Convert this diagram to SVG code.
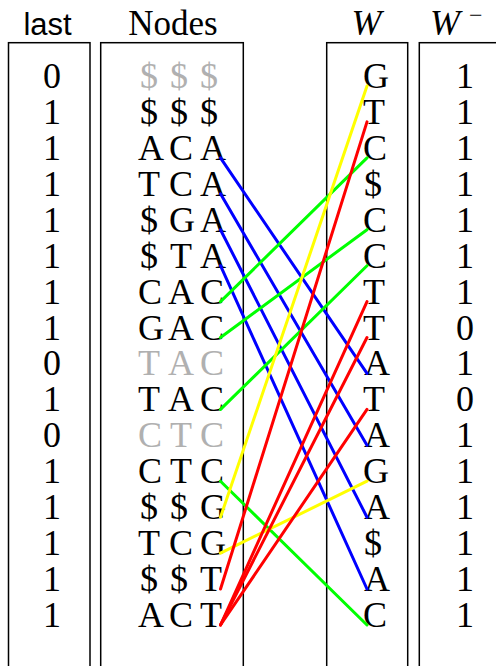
<svg xmlns="http://www.w3.org/2000/svg" width="496" height="666" viewBox="0 0 496 666">
<style>
.t{font-family:"Liberation Serif","DejaVu Serif",serif;font-size:36px;fill:#000}
.c{text-anchor:middle}
.g{fill:#b0b0b0}
.box{fill:none;stroke:#000;stroke-width:1.5}
.e{fill:none;stroke-width:3;stroke-linecap:round}
.A{stroke:#0000ff}.C{stroke:#00ff00}.G{stroke:#ffff00}.T{stroke:#ff0000}
</style>
<rect width="496" height="666" fill="#fff"/>
<g id="headers">
<text x="47.5" y="35" style="font-family:'Liberation Sans','DejaVu Sans',sans-serif;font-size:31px" text-anchor="middle">last</text>
<text class="t c" x="173" y="35" style="font-size:35px">Nodes</text>
<text class="t c" x="366.5" y="35" font-style="italic">W</text>
<text class="t" x="430" y="35" font-style="italic">W<tspan style="font-style:normal;font-size:24px" x="469" y="23">−</tspan></text>
</g>
<g id="boxes">
<rect class="box" x="8.5" y="42.7" width="81.5" height="640"/>
<rect class="box" x="100.7" y="42.7" width="142.6" height="640"/>
<rect class="box" x="326.7" y="42.7" width="81" height="640"/>
<rect class="box" x="419.3" y="42.7" width="100" height="640"/>
</g>
<g id="last" class="t c">
<text x="52" y="88">0</text><text x="52" y="123.9">1</text><text x="52" y="159.9">1</text><text x="52" y="195.8">1</text>
<text x="52" y="231.7">1</text><text x="52" y="267.7">1</text><text x="52" y="303.6">1</text><text x="52" y="339.5">1</text>
<text x="52" y="375.4">0</text><text x="52" y="411.4">1</text><text x="52" y="447.3">0</text><text x="52" y="483.2">1</text>
<text x="52" y="519.2">1</text><text x="52" y="555.1">1</text><text x="52" y="591">1</text><text x="52" y="627">1</text>
</g>
<g id="nodes" class="t">
<g id="node1"><text class="g" y="88"><tspan x="140">$</tspan><tspan x="170">$</tspan><tspan x="200">$</tspan></text></g>
<g id="node2"><text y="123.9"><tspan x="140">$</tspan><tspan x="170">$</tspan><tspan x="200">$</tspan></text></g>
<g id="node3"><text y="159.9"><tspan x="138">A</tspan><tspan x="169">C</tspan><tspan x="200">A</tspan></text></g>
<g id="node4"><text y="195.8"><tspan x="138">T</tspan><tspan x="169">C</tspan><tspan x="200">A</tspan></text></g>
<g id="node5"><text y="231.7"><tspan x="140">$</tspan><tspan x="169">G</tspan><tspan x="200">A</tspan></text></g>
<g id="node6"><text y="267.7"><tspan x="140">$</tspan><tspan x="170">T</tspan><tspan x="200">A</tspan></text></g>
<g id="node7"><text y="303.6"><tspan x="138">C</tspan><tspan x="168">A</tspan><tspan x="200">C</tspan></text></g>
<g id="node8"><text y="339.5"><tspan x="138">G</tspan><tspan x="168">A</tspan><tspan x="200">C</tspan></text></g>
<g id="node9"><text class="g" y="375.4"><tspan x="138">T</tspan><tspan x="168">A</tspan><tspan x="200">C</tspan></text></g>
<g id="node10"><text y="411.4"><tspan x="138">T</tspan><tspan x="168">A</tspan><tspan x="200">C</tspan></text></g>
<g id="node11"><text class="g" y="447.3"><tspan x="138">C</tspan><tspan x="170">T</tspan><tspan x="200">C</tspan></text></g>
<g id="node12"><text y="483.2"><tspan x="138">C</tspan><tspan x="170">T</tspan><tspan x="200">C</tspan></text></g>
<g id="node13"><text y="519.2"><tspan x="140">$</tspan><tspan x="170">$</tspan><tspan x="200">G</tspan></text></g>
<g id="node14"><text y="555.1"><tspan x="138">T</tspan><tspan x="169">C</tspan><tspan x="200">G</tspan></text></g>
<g id="node15"><text y="591"><tspan x="140">$</tspan><tspan x="170">$</tspan><tspan x="200">T</tspan></text></g>
<g id="node16"><text y="627"><tspan x="138">A</tspan><tspan x="169">C</tspan><tspan x="200">T</tspan></text></g>
</g>
<g id="W" class="t">
<text x="363" y="88">G</text><text x="363" y="123.9">T</text><text x="363" y="159.9">C</text><text x="364" y="195.8">$</text>
<text x="363" y="231.7">C</text><text x="363" y="267.7">C</text><text x="363" y="303.6">T</text><text x="363" y="339.5">T</text>
<text x="364" y="375.4">A</text><text x="363" y="411.4">T</text><text x="364" y="447.3">A</text><text x="363" y="483.2">G</text>
<text x="364" y="519.2">A</text><text x="364" y="555.1">$</text><text x="364" y="591">A</text><text x="363" y="627">C</text>
</g>
<g id="Wminus" class="t c">
<text x="465" y="88">1</text><text x="465" y="123.9">1</text><text x="465" y="159.9">1</text><text x="465" y="195.8">1</text>
<text x="465" y="231.7">1</text><text x="465" y="267.7">1</text><text x="465" y="303.6">1</text><text x="465" y="339.5">0</text>
<text x="465" y="375.4">1</text><text x="465" y="411.4">0</text><text x="465" y="447.3">1</text><text x="465" y="483.2">1</text>
<text x="465" y="519.2">1</text><text x="465" y="555.1">1</text><text x="465" y="591">1</text><text x="465" y="627">1</text>
</g>
<g id="connectors">
<line class="e A" x1="220.5" y1="157.9" x2="367" y2="373.4"/>
<line class="e A" x1="220.5" y1="193.8" x2="367" y2="445.3"/>
<line class="e A" x1="220.5" y1="229.7" x2="367" y2="517.2"/>
<line class="e A" x1="220.5" y1="265.7" x2="367" y2="589"/>
<line class="e C" x1="220.5" y1="301.6" x2="367" y2="157.9"/>
<line class="e C" x1="220.5" y1="337.5" x2="367" y2="229.7"/>
<line class="e C" x1="220.5" y1="409.4" x2="367" y2="265.7"/>
<line class="e C" x1="220.5" y1="481.2" x2="367" y2="625"/>
<line class="e G" x1="220.5" y1="517.2" x2="367" y2="86"/>
<line class="e G" x1="220.5" y1="553.1" x2="367" y2="481.2"/>
<line class="e T" x1="220.5" y1="589" x2="367" y2="121.9"/>
<line class="e T" x1="220.5" y1="625" x2="367" y2="301.6"/>
<line class="e T" x1="220.5" y1="625" x2="367" y2="337.5"/>
<line class="e T" x1="220.5" y1="625" x2="367" y2="409.4"/>
</g>
</svg>
